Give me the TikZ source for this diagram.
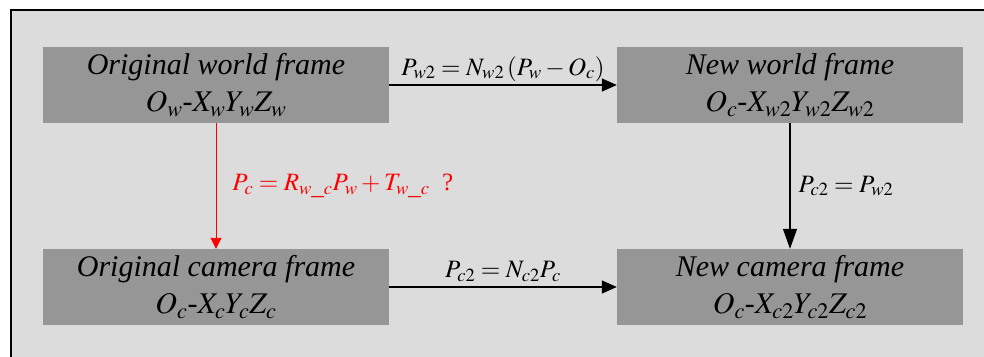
\documentclass[tikz,border=0pt]{standalone}
\usepackage{mathptmx}
\usepackage[no-math]{fontspec}
\setmainfont{Liberation Serif}
\usetikzlibrary{positioning,arrows.meta}
\definecolor{panelgray}{RGB}{220,220,220}
\definecolor{boxgray}{RGB}{150,150,150}
\tikzset{
  frame/.style={fill=boxgray, minimum width=346pt, minimum height=76pt,
    inner sep=0pt, align=center, font=\fontsize{30}{37}\selectfont\itshape},
  conn/.style={line width=1.3pt, -{Triangle[length=15pt,width=13pt]}},
  lbl/.style={font=\fontsize{25}{30}\selectfont, inner sep=2pt}
}
\begin{document}
\begin{tikzpicture}[x=1pt, y=-1pt]
    % Canvas
    \useasboundingbox (0,0) rectangle (984,356);
    \fill[panelgray] (11,10) rectangle (990,362);
    \draw[line width=2pt] (11,362) -- (11,10) -- (990,10);
    % Frames
    \node[frame] (orgworld) at (216,85) {Original world frame\\$O_w$-$X_wY_wZ_w$};
    \node[frame] (newworld) at (790,85) {New world frame\\$O_c$-$X_{w2}Y_{w2}Z_{w2}$};
    \node[frame] (orgcam) at (216,287) {Original camera frame\\$O_c$-$X_cY_cZ_c$};
    \node[frame] (newcam) at (790,287) {New camera frame\\$O_c$-$X_{c2}Y_{c2}Z_{c2}$};
    % Transforms
    \draw[conn] (orgworld) -- node[lbl, above=1pt] (nw) {$P_{w2}=N_{w2}\left(P_w-O_c\right)$} (newworld);
    \draw[conn] (orgcam) -- node[lbl, above=3pt] (nc) {$P_{c2}=N_{c2}P_c$} (newcam);
    \draw[line width=1.1pt, -{Triangle[length=20pt,width=14pt]}]
        (newworld) -- node[lbl, right=6pt] (pc2) {$P_{c2}=P_{w2}$} (newcam);
    \draw[red, line width=0.9pt, -{Triangle[length=11pt,width=11pt]}]
        (orgworld) -- node[lbl, right=14pt, text=red] (rt) {$P_c=R_{w\_c}P_w+T_{w\_c}$\enspace?} (orgcam);
\end{tikzpicture}
\end{document}
